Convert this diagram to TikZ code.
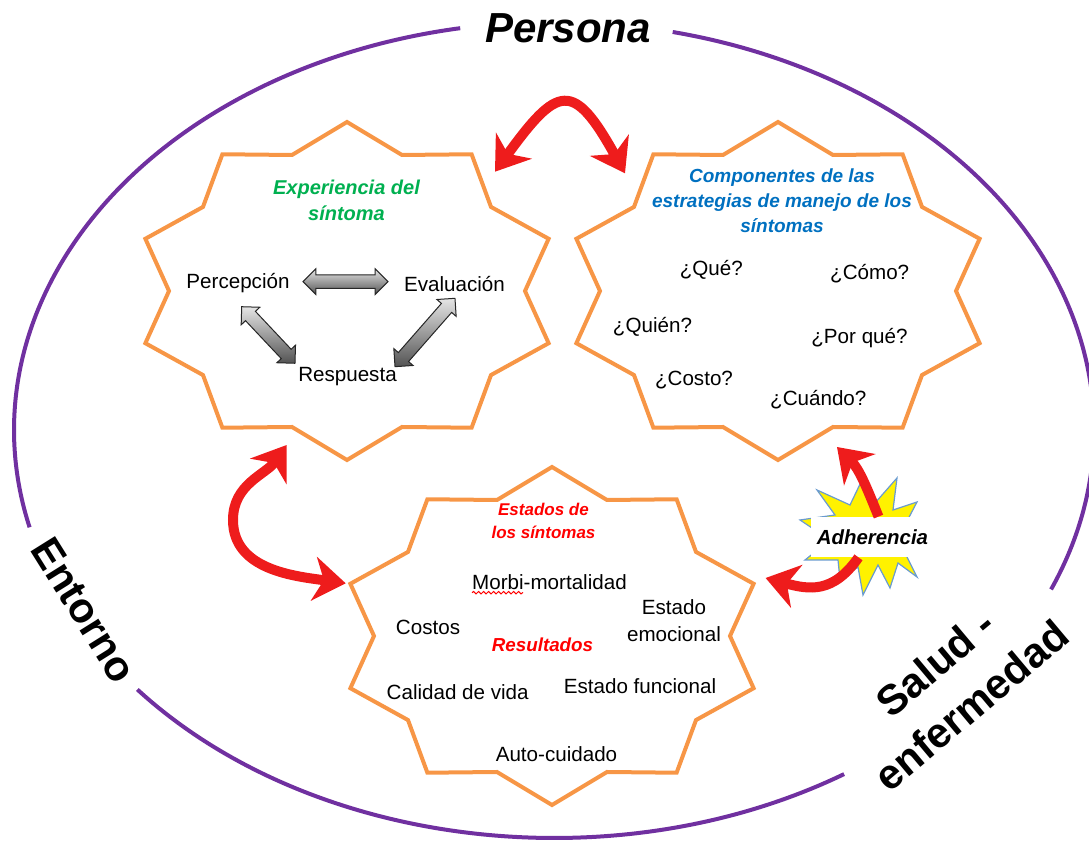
\documentclass[tikz,border=0pt]{standalone}
\usepackage{fontspec}
\setmainfont{Liberation Sans}
\usetikzlibrary{arrows.meta,calc,shapes.arrows,decorations.pathmorphing}

\definecolor{ringpurple}{HTML}{7030A0}
\definecolor{staror}{HTML}{F79646}
\definecolor{arrred}{HTML}{EE1C1C}
\definecolor{expgreen}{HTML}{00B050}
\definecolor{cmpblue}{HTML}{0070C0}
\definecolor{burstline}{HTML}{6A9BD0}

% ten-point star round a named centre
\newcommand\decastar[1]{%
  \draw[starline] ($(#1)+(90:212 and 169)$)
    \foreach \a in {108,144,...,396} {-- ($(#1)+(\a:178 and 143)$) -- ($(#1)+(\a+18:212 and 169)$)}
    -- ($(#1)+(72:178 and 143)$) -- cycle;}

\begin{document}
\begin{tikzpicture}[x=0.5pt, y=0.5pt, >={Stealth[length=16pt,width=22pt,inset=5pt]},
    ringline/.style={draw=ringpurple, line width=2pt},
    starline/.style={draw=staror, line width=2pt, line join=miter},
    redarrow/.style={draw=arrred, line width=5pt},
    grayarrow/.style={double arrow, draw=black!85, line width=0.5pt, top color=gray!20,
      bottom color=gray!65!black, double arrow head extend=3pt, inner sep=3.15pt},
    txt/.style={font=\fontsize{10.3}{13.5}\selectfont, align=center},
    bigtxt/.style={font=\fontsize{21}{28}\selectfont\bfseries, align=center}]
\useasboundingbox (0,0) rectangle (1089,841);

% outer ring, open where the labels sit
\coordinate (ring) at (554,411);
\draw[ringline] ($(ring)+(100:540 and 408)$) arc[start angle=100, end angle=193.8, x radius=540, y radius=408];
\draw[ringline] ($(ring)+(219.5:540 and 408)$) arc[start angle=219.5, end angle=302.5, x radius=540, y radius=408];
\draw[ringline] ($(ring)+(337:540 and 408)$) arc[start angle=337, end angle=437.3, x radius=540, y radius=408];

\node[bigtxt] (persona) at (568,813) {\itshape Persona};
\node[bigtxt, rotate=-58] (entorno) at (84,231) {Entorno};
\node[bigtxt, rotate=40] (salud) at (953,157) {Salud -\\enfermedad};

% the three stars
\coordinate (exp) at (347,550);
\coordinate (cmp) at (778,550);
\coordinate (res) at (552,205);
\foreach \c in {exp,cmp,res} {\decastar{\c}}

% experiencia
\node[txt, font=\fontsize{10}{13}\selectfont\bfseries\itshape, text=expgreen] (exptitle) at (346.5,641) {Experiencia del\\síntoma};
\node[txt] (perc) at (238,558.3) {Percepción};
\node[txt] (eval) at (454.5,557) {Evaluación};
\node[txt] (resp) at (347.5,464.3) {Respuesta};
\coordinate (pe1) at (303,559.3); \coordinate (pe2) at (388,559.3);
\coordinate (pr1) at (241.7,534.3); \coordinate (pr2) at (295,477.7);
\coordinate (er1) at (455,542.7); \coordinate (er2) at (395,474.3);
\foreach \s/\e in {pe1/pe2,pr1/pr2,er1/er2}
  \path let \p1=($(\e)-(\s)$), \n1={veclen(\x1,\y1)} in
    (\s) -- node[grayarrow, sloped, minimum height=\n1] {} (\e);

% componentes
\node[txt, font=\fontsize{9.5}{12.5}\selectfont\bfseries\itshape, text=cmpblue] (cmptitle) at (782,640)
  {Componentes de las\\estrategias de manejo de los\\síntomas};
\node[txt] (que) at (711.3,571) {¿Qué?};
\node[txt] (como) at (869.7,567.7) {¿Cómo?};
\node[txt] (quien) at (652.5,514.3) {¿Quién?};
\node[txt] (porque) at (859.5,502.7) {¿Por qué?};
\node[txt] (costo) at (694,461) {¿Costo?};
\node[txt] (cuando) at (818.3,441) {¿Cuándo?};

% estados / resultados
\node[txt, font=\fontsize{8.5}{11.5}\selectfont\bfseries\itshape, text=red] (restitle) at (543.5,320.5) {Estados de\\los síntomas};
\node[txt] (morb) at (549.5,259.3) {Morbi-mortalidad};
\draw[red, line width=0.5pt, decorate, decoration={snake, amplitude=0.6pt, segment length=2.5pt}] (472,248.3) -- (523,248.3);
\node[txt] (costos) at (428,214) {Costos};
\node[txt] (emoc) at (674,220.5) {Estado\\emocional};
\node[txt, font=\fontsize{9.4}{12}\selectfont\bfseries\itshape, text=red] (resul) at (542.5,196.7) {Resultados};
\node[txt] (calidad) at (457.7,149) {Calidad de vida};
\node[txt] (funcional) at (640,155) {Estado funcional};
\node[txt] (auto) at (556.5,87) {Auto-cuidado};

% red links between the stars
\coordinate (expcmpA) at (495,669.3); \coordinate (expcmpB) at (625,667.7);
\draw[redarrow, <->] (expcmpA) to[out=54, in=119, looseness=2.1] (expcmpB);
\coordinate (expresA) at (286.7,396); \coordinate (expresM) at (233,321); \coordinate (expresB) at (345.7,257.7);
\draw[redarrow, <->] (expresA) to[out=235, in=90] (expresM) to[out=-90, in=172] (expresB);

% adherencia
\draw[burstline, line width=0.6pt, fill=yellow] (817,351) -- (850,336) -- (862,361) -- (875,338) -- (897,363)
  -- (893,331) -- (917,339) -- (905,316) -- (928,301) -- (906,286) -- (917,264) -- (898,278) -- (890,253)
  -- (878,276) -- (863,246) -- (858,274) -- (840,261) -- (838,281) -- (805,281) -- (830,301) -- (800,321)
  -- (835,326) -- cycle;
\node[fill=white, inner xsep=3pt, minimum height=20pt, font=\fontsize{10.2}{12}\selectfont\bfseries\itshape] (adh) at (872.5,304) {Adherencia};
\coordinate (cmpadh) at (837,394);
\coordinate (resadh) at (765.6,263);
\draw[redarrow, ->] ([xshift=3pt]adh.north) to[out=112, in=-45] (cmpadh);
\draw[redarrow, ->] ([xshift=-7pt]adh.south) to[out=235, in=-15, looseness=1.2] (resadh);
\end{tikzpicture}
\end{document}
